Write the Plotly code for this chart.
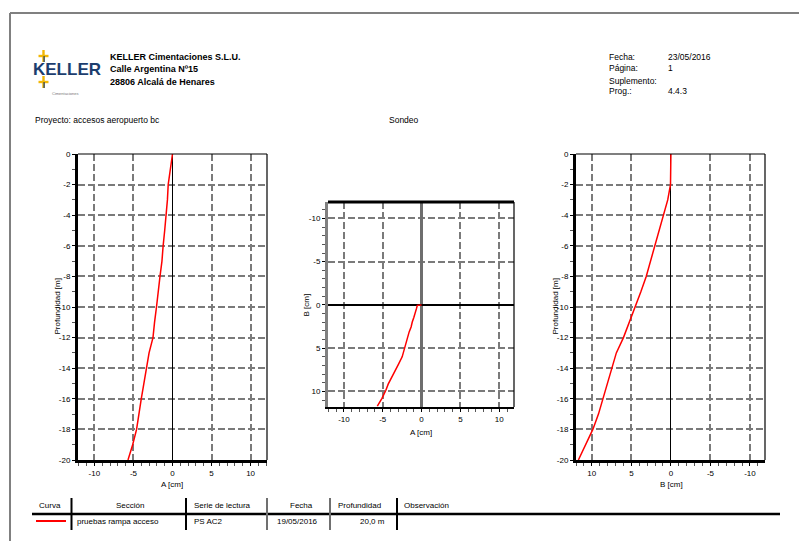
import plotly.graph_objects as go

# ---------------- data ----------------
depth = [0, -1, -2, -3, -4, -5, -6, -7, -8, -9, -10, -11, -12, -13, -14, -15, -16, -17, -18, -19, -20]
disp_a = [0.0, -0.3, -0.55, -0.65, -0.8, -1.0, -1.2, -1.35, -1.6, -1.8, -2.05, -2.3, -2.5,
          -3.0, -3.35, -3.7, -4.0, -4.3, -4.6, -5.1, -5.7]
disp_b = [0.0, 0.0, 0.05, 0.4, 0.94, 1.45, 1.98, 2.55, 3.12, 3.8, 4.52, 5.3, 6.0,
          6.9, 7.47, 8.05, 8.6, 9.16, 9.87, 10.8, 11.7]

depth_ticks = [0, -2, -4, -6, -8, -10, -12, -14, -16, -18, -20]
depth_labels = ["0", "-2", "-4", "-6", "-8", "-10", "-12", "-14", "-16", "-18", "-20"]
cm_ticks = [-10, -5, 0, 5, 10]
cm_labels = ["-10", "-5", "0", "5", "10"]

header_left = ["KELLER Cimentaciones S.L.U.", "Calle Argentina Nº15", "28806 Alcalá de Henares"]
header_keys = ["Fecha:", "Página:", "Suplemento:", "Prog.:"]
header_vals = ["23/05/2016", "1", "", "4.4.3"]
table_head = ["Curva", "Sección", "Serie de lectura", "Fecha", "Profundidad", "Observación"]
table_row = ["pruebas rampa acceso", "PS AC2", "19/05/2016", "20,0 m", ""]

# ---------------- layout helpers ----------------
W, H = 799, 541
def px(x): return x / W
def py(y): return 1 - y / H

FONT = "Liberation Sans, Arial, sans-serif"
GRID = dict(showgrid=True, gridcolor="#7a7a7a", gridwidth=1.6, griddash="7px,3px")
TICKF = dict(family=FONT, size=8, color="black")

fig = go.Figure()

fig.add_trace(go.Scatter(x=disp_a, y=depth, mode="lines", line=dict(color="red", width=1.5),
                         xaxis="x", yaxis="y", showlegend=False))
fig.add_trace(go.Scatter(x=disp_a, y=disp_b, mode="lines", line=dict(color="red", width=1.5),
                         xaxis="x2", yaxis="y2", showlegend=False))
fig.add_trace(go.Scatter(x=disp_b, y=depth, mode="lines", line=dict(color="red", width=1.5),
                         xaxis="x3", yaxis="y3", showlegend=False))

def xax(dom, anchor, rng, ticktext, zc="black", zw=1.2, lc="black", lw=3):
    return dict(domain=[px(dom[0]), px(dom[1])], anchor=anchor, range=rng, automargin=False,
                tickmode="array", tickvals=cm_ticks, ticktext=ticktext,
                ticks="outside", ticklen=3, tickcolor="black", tickfont=TICKF,
                minor=dict(ticks="outside", ticklen=3, dtick=1, tick0=0, tickcolor="#555", showgrid=False),
                zeroline=True, zerolinecolor=zc, zerolinewidth=zw,
                showline=True, linecolor=lc, linewidth=lw, mirror=False, **GRID)

def yax_depth(dom, anchor):
    return dict(domain=[py(dom[1]), py(dom[0])], anchor=anchor, range=[-20, 0], automargin=False,
                tickmode="array", tickvals=depth_ticks, ticktext=depth_labels,
                ticks="outside", ticklen=3, tickcolor="black", tickfont=TICKF,
                minor=dict(ticks="outside", ticklen=3, dtick=1, tick0=0, tickcolor="#555", showgrid=False),
                zeroline=False, showline=True, linecolor="black", linewidth=3, mirror=False, **GRID)

L = (78, 267); R = (576, 765); V = (154, 460)
M_x = (328, 514); M_y = (202, 407)

fig.update_layout(
    width=W, height=H, margin=dict(l=0, r=0, t=0, b=0, pad=0),
    paper_bgcolor="white", plot_bgcolor="white", showlegend=False,
    font=dict(family=FONT, size=8, color="black"),
    xaxis=xax(L, "y", [-12.1, 12.1], cm_labels),
    yaxis=yax_depth(V, "x"),
    xaxis2=xax(M_x, "y2", [-12.05, 11.9], cm_labels, zc="#6e6e6e", zw=3, lc="black", lw=2),
    yaxis2=dict(domain=[py(M_y[1]), py(M_y[0])], anchor="x2", range=[11.8, -11.9], automargin=False,
                tickmode="array", tickvals=cm_ticks, ticktext=cm_labels,
                ticks="outside", ticklen=3, tickcolor="black", tickfont=TICKF,
                minor=dict(ticks="outside", ticklen=3, dtick=1, tick0=0, tickcolor="#555", showgrid=False),
                zeroline=True, zerolinecolor="black", zerolinewidth=2,
                showline=True, linecolor="#808080", linewidth=3, mirror=False, **GRID),
    xaxis3=xax(R, "y3", [12.0, -11.9], cm_labels),
    yaxis3=yax_depth(V, "x3"),
)

shapes = []
def line(x0, y0, x1, y1, color="black", width=1):
    shapes.append(dict(type="line", xref="paper", yref="paper", x0=px(x0), y0=py(y0),
                       x1=px(x1), y1=py(y1), line=dict(color=color, width=width)))

# plot frames (top / right edges)
for (xa, xb) in (L, R):
    line(xa, V[0], xb, V[0], width=1.2)
    line(xb, V[0], xb, V[1], width=1.2)
line(M_x[0], M_y[0], M_x[1], M_y[0], width=3)
line(M_x[1], M_y[0], M_x[1], M_y[1], width=1.2)

# page border
line(10, 13, 799, 13, color="#808080", width=2)
line(10, 13, 10, 541, color="#808080", width=2)

# table
line(32, 514, 780, 514, width=2.5)
for xs, col in ((71.5, "black"), (186, "black"), (267, "#707070"), (330, "#707070"), (397, "black")):
    line(xs, 498, xs, 530, color=col, width=2)
line(36, 521, 66, 521, color="red", width=2)

# logo crosses
for cy in (56, 82):
    shapes.append(dict(type="rect", xref="paper", yref="paper", x0=px(42.3), x1=px(44.7),
                       y0=py(cy + 6), y1=py(cy - 6), fillcolor="#f2b705", line=dict(width=0)))
    shapes.append(dict(type="rect", xref="paper", yref="paper", x0=px(38.5), x1=px(48.5),
                       y0=py(cy + 1.2), y1=py(cy - 1.2), fillcolor="#f2b705", line=dict(width=0)))
    shapes.append(dict(type="rect", xref="paper", yref="paper", x0=px(43.5), x1=px(44.7),
                       y0=py(cy + 6), y1=py(cy), fillcolor="#1c3d6e", line=dict(width=0)))

fig.update_layout(shapes=shapes)

ann = []
def text(x, y, s, size=8, anchor="left", bold=False, color="black", angle=0):
    ann.append(dict(x=px(x), y=py(y), xref="paper", yref="paper", text=("<b>%s</b>" % s) if bold else s,
                    showarrow=False, xanchor=anchor, yanchor="middle", textangle=angle,
                    font=dict(family=FONT, size=size, color=color)))

# logo
text(66.5, 70, "KELLER", size=17, anchor="center", bold=True, color="#1c3d6e")
text(65, 94, "Cimentaciones", size=4, anchor="center", color="#777")

for i, s in enumerate(header_left):
    text(108, 57 + i * 12.5, s, size=9, bold=True)
for i, (k, v) in enumerate(zip(header_keys, header_vals)):
    yy = [57, 68.5, 80.5, 90.5][i]
    text(607, yy, k, size=8.5)
    text(666, yy, v, size=8.5)

text(33, 120, "Proyecto: accesos aeropuerto bc", size=8.5)
text(387, 120, "Sondeo", size=8.5)

# axis titles
text(50, 307, "Profundidad [m]", angle=-90)
text(548, 307, "Profundidad [m]", angle=-90)
text(172, 484, "A [cm]", anchor="center")
text(421, 432, "A [cm]", anchor="center")
text(299, 305, "B [cm]", angle=-90)
text(671, 484, "B [cm]", anchor="center")

# table text
hx = [(37, "left"), (130, "center"), (192, "left"), (301.5, "center"), (336, "left"), (402, "left")]
for (x, a), s in zip(hx, table_head):
    text(x, 505, s, anchor=a)
rx = [(75, "left"), (192, "left"), (275, "left"), (387, "right"), (402, "left")]
for (x, a), s in zip(rx, table_row):
    text(x, 521.5, s, anchor=a)

fig.update_layout(annotations=ann)
fig.write_html("out.html", config={"displayModeBar": False},
               post_script="document.body.style.margin='0';document.body.style.overflow='hidden';")
